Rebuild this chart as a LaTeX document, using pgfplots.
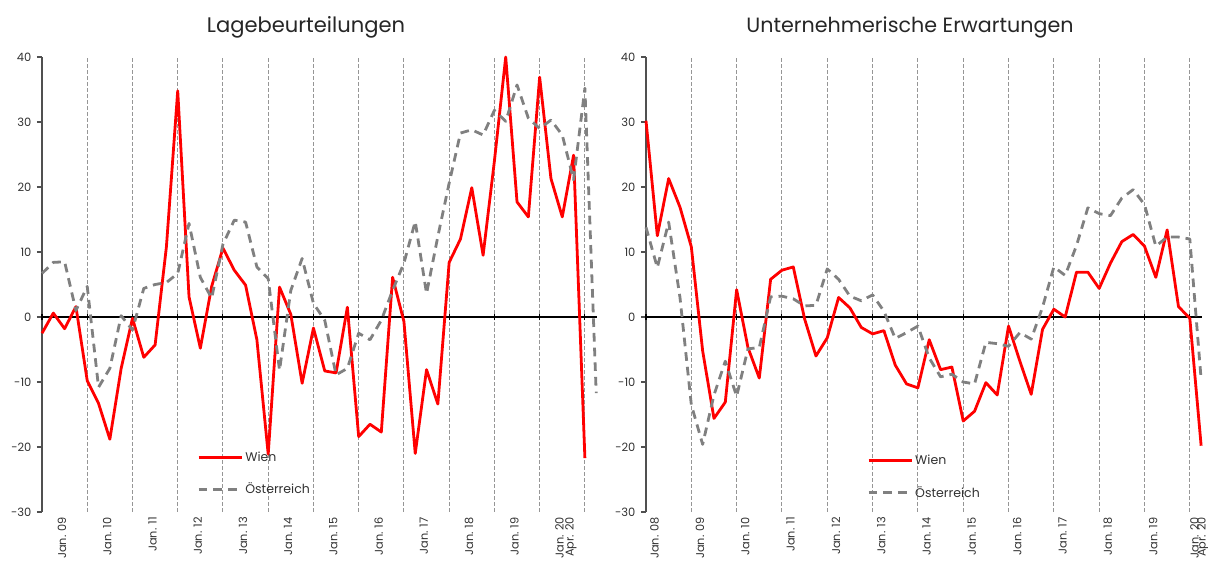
\documentclass[border=0pt]{standalone}
\usepackage{fontspec}
\setmainfont{Poppins}
\usepackage{pgfplots}
\pgfplotsset{compat=1.18}
\definecolor{wien}{RGB}{255,0,0}
\definecolor{oest}{RGB}{128,128,128}
\definecolor{gridc}{RGB}{150,150,150}
\definecolor{axc}{RGB}{80,80,80}
\definecolor{txt}{RGB}{50,50,50}

\pgfplotsset{
  panel/.style={
    scale only axis, height=341.25pt,
    xmin=0, xmax=49.1, ymin=-30, ymax=40,
    clip=false,
    axis y line*=left,
    axis x line*=bottom,
    x axis line style={draw=none},
    y axis line style={-, axc, line width=1.1pt},
    ytick={-30,-20,-10,0,10,20,30,40},
    yticklabels={-30,-20,-10,0,10,20,30,40},
    ytick style={axc, line width=0.8pt},
    tick align=outside,
    major tick length=3.75pt,
    yticklabel style={font=\fontsize{8.6}{10}\selectfont, text=txt, inner sep=1pt, xshift=-3pt},
    xtick style={draw=none},
    xticklabel style={rotate=90, anchor=east, font=\fontsize{8.5}{10}\selectfont, text=txt, inner sep=0pt, yshift=-6.5pt},
    extra x ticks={4,8,...,48},
    extra x tick style={grid=major, xticklabel={}},
    major grid style={gridc, line width=0.7pt, dash pattern=on 3pt off 1.5pt},
    legend cell align=left,
    legend image code/.code={\draw[##1] (0pt,0pt) -- (32.5pt,0pt);},
    legend style={draw=none, fill=none, font=\fontsize{9.4}{11}\selectfont, text=txt,
      row sep=12pt, inner sep=0pt, anchor=north west,
      nodes={inner sep=1.5pt}},
  },
  wl/.style={wien, line width=2.1pt, line join=round},
  ol/.style={oest, line width=2.1pt, line join=round, dash pattern=on 6.5pt off 4.5pt},
}

\newcommand{\zeroaxis}{%
  \draw[black, line width=1.1pt] (axis cs:0,0) -- (axis cs:49.1,0);
  \draw[black, line width=0.8pt] ([yshift=-2.6pt]axis cs:0,0) -- ([yshift=2.6pt]axis cs:0,0);
  \draw[black, line width=0.8pt] ([yshift=-2.6pt]axis cs:4,0) -- ([yshift=2.6pt]axis cs:4,0);
  \draw[black, line width=0.8pt] ([yshift=-2.6pt]axis cs:8,0) -- ([yshift=2.6pt]axis cs:8,0);
  \draw[black, line width=0.8pt] ([yshift=-2.6pt]axis cs:12,0) -- ([yshift=2.6pt]axis cs:12,0);
  \draw[black, line width=0.8pt] ([yshift=-2.6pt]axis cs:16,0) -- ([yshift=2.6pt]axis cs:16,0);
  \draw[black, line width=0.8pt] ([yshift=-2.6pt]axis cs:20,0) -- ([yshift=2.6pt]axis cs:20,0);
  \draw[black, line width=0.8pt] ([yshift=-2.6pt]axis cs:24,0) -- ([yshift=2.6pt]axis cs:24,0);
  \draw[black, line width=0.8pt] ([yshift=-2.6pt]axis cs:28,0) -- ([yshift=2.6pt]axis cs:28,0);
  \draw[black, line width=0.8pt] ([yshift=-2.6pt]axis cs:32,0) -- ([yshift=2.6pt]axis cs:32,0);
  \draw[black, line width=0.8pt] ([yshift=-2.6pt]axis cs:36,0) -- ([yshift=2.6pt]axis cs:36,0);
  \draw[black, line width=0.8pt] ([yshift=-2.6pt]axis cs:40,0) -- ([yshift=2.6pt]axis cs:40,0);
  \draw[black, line width=0.8pt] ([yshift=-2.6pt]axis cs:44,0) -- ([yshift=2.6pt]axis cs:44,0);
  \draw[black, line width=0.8pt] ([yshift=-2.6pt]axis cs:48,0) -- ([yshift=2.6pt]axis cs:48,0);
}

\begin{document}
\begin{tikzpicture}
\useasboundingbox (0,0) rectangle (906pt,423pt);

\node[anchor=base, font=\fontsize{15.8}{18}\selectfont, text=black!85] at (229.5pt,398.25pt) {Lagebeurteilungen};
\node[anchor=base, font=\fontsize{15.5}{18}\selectfont, text=black!85] at (682.5pt,398.25pt) {Unternehmerische Erwartungen};

% ---------------- left panel ----------------
\begin{axis}[panel, at={(31.5pt,39pt)}, anchor=south west, width=416.5pt,
  xtick={1,5,9,13,17,21,25,29,33,37,41,45,46},
  xticklabels={Jan. 09,Jan. 10,Jan. 11,Jan. 12,Jan. 13,Jan. 14,Jan. 15,Jan. 16,Jan. 17,Jan. 18,Jan. 19,Jan. 20,Apr. 20},
  legend style={at={(0.279,0.138)}},
]
\zeroaxis
\addplot[wl] table {
0 -2.5
1 0.6
2 -1.8
3 1.6
4 -9.8
5 -13.3
6 -18.8
7 -7.9
8 -0.2
9 -6.2
10 -4.3
11 10.8
12 34.8
13 3.1
14 -4.8
15 4.7
16 10.6
17 7.2
18 4.9
19 -3.5
20 -21.1
21 4.6
22 0.4
23 -10.2
24 -1.7
25 -8.3
26 -8.6
27 1.5
28 -18.4
29 -16.5
30 -17.7
31 6.1
32 -0.7
33 -21.0
34 -8.1
35 -13.4
36 8.4
37 12.0
38 19.9
39 9.5
40 24.0
41 40.0
42 17.7
43 15.4
44 36.9
45 21.3
46 15.4
47 24.9
48 -21.7
};
\addlegendentry{Wien}
\addplot[ol] table {
0 6.7
1 8.4
2 8.5
3 1.0
4 4.7
5 -10.8
6 -7.9
7 0.2
8 -2.0
9 4.4
10 5.0
11 5.3
12 6.7
13 14.4
14 6.1
15 2.9
16 11.2
17 14.9
18 14.6
19 7.7
20 5.9
21 -8.2
22 4.1
23 9.0
24 2.1
25 -0.5
26 -8.9
27 -7.9
28 -2.5
29 -3.5
30 -0.5
31 4.1
32 8.3
33 14.7
34 3.6
35 12.4
36 20.6
37 28.3
38 28.8
39 28.0
40 31.8
41 30.1
42 35.7
43 30.6
44 29.0
45 30.3
46 28.0
47 21.1
48 35.2
49 -11.7
};
\addlegendentry{Österreich}
\end{axis}

% ---------------- right panel ----------------
\begin{axis}[panel, at={(484.5pt,39pt)}, anchor=south west, width=417.2pt,
  xtick={0,4,8,12,16,20,24,28,32,36,40,44,47.65,48.4},
  xticklabels={Jan. 08,Jan. 09,Jan. 10,Jan. 11,Jan. 12,Jan. 13,Jan. 14,Jan. 15,Jan. 16,Jan. 17,Jan. 18,Jan. 19,Jan. 20,Apr. 20},
  legend style={at={(0.397,0.131)}},
]
\zeroaxis
\addplot[wl] table {
0 30.2
1 12.5
2 21.3
3 16.9
4 10.8
5 -5.2
6 -15.6
7 -13.1
8 4.2
9 -4.7
10 -9.4
11 5.8
12 7.2
13 7.7
14 -0.3
15 -6.0
16 -3.2
17 3.0
18 1.4
19 -1.6
20 -2.6
21 -2.1
22 -7.4
23 -10.3
24 -10.9
25 -3.5
26 -8.1
27 -7.7
28 -16.0
29 -14.5
30 -10.1
31 -12.0
32 -1.4
33 -6.8
34 -11.9
35 -1.9
36 1.2
37 0.0
38 6.9
39 6.9
40 4.4
41 8.3
42 11.6
43 12.7
44 10.9
45 6.1
46 13.4
47 1.6
48 -0.2
49 -19.8
};
\addlegendentry{Wien}
\addplot[ol] table {
0 13.8
1 7.6
2 14.6
3 3.0
4 -13.5
5 -19.6
6 -12.0
7 -6.8
8 -12.2
9 -4.9
10 -4.7
11 3.1
12 3.2
13 2.8
14 1.7
15 1.8
16 7.4
17 5.8
18 3.2
19 2.5
20 3.4
21 0.9
22 -3.3
23 -2.4
24 -1.4
25 -6.3
26 -9.2
27 -8.8
28 -10.0
29 -10.3
30 -3.9
31 -4.1
32 -4.5
33 -2.4
34 -3.4
35 1.5
36 7.7
37 6.4
38 11.0
39 16.8
40 15.9
41 15.6
42 18.3
43 19.6
44 17.3
45 10.9
46 12.3
47 12.3
48 12.0
49 -9.6
};
\addlegendentry{Österreich}
\end{axis}
\end{tikzpicture}
\end{document}
